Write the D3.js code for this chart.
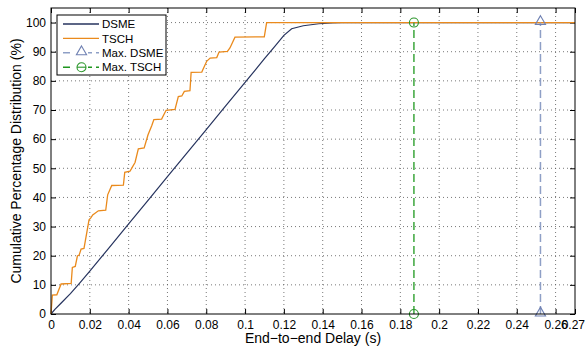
<!DOCTYPE html>
<html>
<head>
<meta charset="utf-8">
<script src="https://cdn.jsdelivr.net/npm/d3@7"></script>
<style>
  body { margin: 0; background: #fff; }
  svg text { font-family: "Liberation Sans", Arial, Helvetica, sans-serif; fill: #000; }
</style>
</head>
<body>
<div id="chart"></div>
<script>
// delay (s) and cumulative share (%)
const dsmeDelay = [0, 0.002, 0.005, 0.01, 0.015, 0.02, 0.03, 0.04, 0.05, 0.06, 0.07, 0.08, 0.09, 0.1, 0.105, 0.11, 0.115, 0.12, 0.124, 0.13, 0.138, 0.145, 0.15, 0.27];
const dsmePct   = [0, 1.6, 3.6, 7.0, 10.8, 14.7, 22.8, 30.9, 39.0, 47.1, 55.2, 63.3, 71.4, 79.5, 83.5, 87.6, 91.6, 95.6, 97.9, 98.9, 99.6, 99.9, 100, 100];

const tschDelay = [0, 0.0007, 0.003, 0.0052, 0.0104, 0.011, 0.0125, 0.0136, 0.0145, 0.0155, 0.017, 0.0196, 0.0205, 0.0215, 0.0244, 0.0282, 0.0292, 0.0313, 0.0373, 0.038, 0.0407, 0.042, 0.0433, 0.045, 0.048, 0.05, 0.0519, 0.053, 0.057, 0.0593, 0.0639, 0.0656, 0.0674, 0.0687, 0.0716, 0.0722, 0.0777, 0.0802, 0.082, 0.0854, 0.0866, 0.0909, 0.0922, 0.0948, 0.1099, 0.1111, 0.27];
const tschPct   = [0, 6.5, 6.6, 10.3, 10.5, 16.0, 16.3, 19.9, 20.2, 22.3, 22.5, 32.3, 33.0, 34.0, 35.4, 35.6, 40.9, 44.1, 44.2, 48.6, 49.0, 50.5, 52.0, 56.7, 57.0, 61.5, 64.6, 66.7, 66.9, 69.9, 70.2, 74.6, 74.8, 76.4, 76.6, 82.9, 83.0, 86.7, 87.8, 88.0, 89.9, 90.1, 91.3, 95.0, 95.1, 100, 100];

const maxDelay = { dsme: 0.2522, tsch: 0.187 };
const xTicks = [0, 0.02, 0.04, 0.06, 0.08, 0.1, 0.12, 0.14, 0.16, 0.18, 0.2, 0.22, 0.24, 0.26, 0.27];
const yTicks = [0, 10, 20, 30, 40, 50, 60, 70, 80, 90, 100];

const width = 585, height = 347;
const margin = { top: 8, right: 10, bottom: 33, left: 51 };
const w = width - margin.left - margin.right;
const h = height - margin.top - margin.bottom;

const colors = { dsme: '#26335e', tsch: '#ea8a1c', maxDsme: '#8e9fc6', maxTsch: '#3da63d' };

const svg = d3.select('#chart').append('svg')
  .attr('width', width)
  .attr('height', height);

const g = svg.append('g')
  .attr('transform', `translate(${margin.left},${margin.top})`);

const x = d3.scaleLinear().domain([0, 0.27]).range([0, w]);
const y = d3.scaleLinear().domain([0, 105]).range([h, 0]);

const fmt = d => String(+d.toFixed(2));

// grid
g.append('g')
  .attr('class', 'grid')
  .selectAll('line.gx')
  .data(xTicks.filter(d => d > 0 && d < 0.27))
  .enter().append('line')
  .attr('x1', d => x(d)).attr('x2', d => x(d))
  .attr('y1', 0).attr('y2', h);
g.append('g')
  .attr('class', 'grid')
  .selectAll('line.gy')
  .data(yTicks.filter(d => d > 0))
  .enter().append('line')
  .attr('x1', 0).attr('x2', w)
  .attr('y1', d => y(d)).attr('y2', d => y(d));
g.selectAll('.grid line')
  .attr('stroke', '#555')
  .attr('stroke-width', 0.8)
  .attr('stroke-dasharray', '1,3');

// axes, ticks pointing inward on all sides
const xAxis = g.append('g')
  .attr('transform', `translate(0,${h})`)
  .call(d3.axisBottom(x).tickValues(xTicks).tickFormat(fmt).tickSizeInner(-5).tickSizeOuter(0).tickPadding(6));
const xTop = g.append('g')
  .call(d3.axisTop(x).tickValues(xTicks).tickFormat('').tickSizeInner(-5).tickSizeOuter(0));
const yAxis = g.append('g')
  .call(d3.axisLeft(y).tickValues(yTicks).tickSizeInner(-5).tickSizeOuter(0).tickPadding(5));
const yRight = g.append('g')
  .attr('transform', `translate(${w},0)`)
  .call(d3.axisRight(y).tickValues(yTicks).tickFormat('').tickSizeInner(-5).tickSizeOuter(0));

[xAxis, xTop, yAxis, yRight].forEach(a => {
  a.select('.domain').remove();
  a.selectAll('line').attr('stroke', '#000');
  a.selectAll('text').style('font-size', '12px');
});

// last label sits at the right edge, keep it inside the page
xAxis.selectAll('.tick text')
  .filter(d => d === 0.27)
  .attr('text-anchor', 'end')
  .attr('dx', 9.5);

// lines
const line = d3.line().x(d => x(d[0])).y(d => y(d[1]));

g.append('path')
  .datum(dsmeDelay.map((d, i) => [d, dsmePct[i]]))
  .attr('d', line)
  .attr('fill', 'none')
  .attr('stroke', colors.dsme)
  .attr('stroke-width', 1.2);

g.append('path')
  .datum(tschDelay.map((d, i) => [d, tschPct[i]]))
  .attr('d', line)
  .attr('fill', 'none')
  .attr('stroke', colors.tsch)
  .attr('stroke-width', 1.3);

// max markers
const tri = d3.symbol().type(d3.symbolTriangle).size(45);

g.append('line')
  .attr('x1', x(maxDelay.tsch)).attr('x2', x(maxDelay.tsch))
  .attr('y1', y(0)).attr('y2', y(100))
  .attr('stroke', colors.maxTsch).attr('stroke-width', 1.5)
  .attr('stroke-dasharray', '8,4');
[0, 100].forEach(v => {
  g.append('circle')
    .attr('cx', x(maxDelay.tsch)).attr('cy', y(v)).attr('r', 4.5)
    .attr('fill', 'none').attr('stroke', '#2a962a').attr('stroke-width', 1.1);
});

g.append('line')
  .attr('x1', x(maxDelay.dsme)).attr('x2', x(maxDelay.dsme))
  .attr('y1', y(0)).attr('y2', y(100))
  .attr('stroke', colors.maxDsme).attr('stroke-width', 1.5)
  .attr('stroke-dasharray', '8,4');
[0, 100].forEach(v => {
  g.append('path')
    .attr('d', tri)
    .attr('transform', `translate(${x(maxDelay.dsme)},${y(v) - 1})`)
    .attr('fill', 'none').attr('stroke', '#6f80b2').attr('stroke-width', 1.1);
});

// frame
g.append('rect')
  .attr('width', w).attr('height', h)
  .attr('fill', 'none').attr('stroke', '#000').attr('stroke-width', 1);

// axis labels
svg.append('text')
  .attr('x', margin.left + w / 2)
  .attr('y', 343)
  .attr('text-anchor', 'middle')
  .style('font-size', '14px')
  .text('End\u2212to\u2212end Delay (s)');

svg.append('text')
  .attr('transform', `translate(21,${margin.top + h / 2}) rotate(-90)`)
  .attr('text-anchor', 'middle')
  .style('font-size', '14px')
  .text('Cumulative Percentage Distribution (%)');

// legend
const legend = svg.append('g').attr('transform', 'translate(57,15)');
legend.append('rect')
  .attr('width', 109).attr('height', 60)
  .attr('fill', '#fff').attr('stroke', '#000').attr('stroke-width', 1);

const items = [
  { label: 'DSME', color: colors.dsme, dash: null, marker: null },
  { label: 'TSCH', color: colors.tsch, dash: null, marker: null },
  { label: 'Max. DSME', color: colors.maxDsme, dash: '7,4', marker: 'tri' },
  { label: 'Max. TSCH', color: '#1f961f', dash: '7,4', marker: 'circle' }
];

items.forEach((it, i) => {
  const row = legend.append('g').attr('transform', `translate(0,${9 + i * 14.4})`);
  row.append('line')
    .attr('x1', 6).attr('x2', 42)
    .attr('stroke', it.color).attr('stroke-width', it.dash ? 1.5 : 1.4)
    .attr('stroke-dasharray', it.dash);
  if (it.marker === 'tri') {
    row.append('rect').attr('x', 17).attr('y', -6).attr('width', 14).attr('height', 12).attr('fill', '#fff');
    row.append('path').attr('d', tri).attr('transform', 'translate(24.5,-1)')
      .attr('fill', 'none').attr('stroke', '#6f80b2').attr('stroke-width', 1.1);
  }
  if (it.marker === 'circle') {
    row.append('rect').attr('x', 17).attr('y', -6).attr('width', 14).attr('height', 12).attr('fill', '#fff');
    row.append('circle').attr('cx', 24.5).attr('cy', 0).attr('r', 4.5)
      .attr('fill', 'none').attr('stroke', '#2a962a').attr('stroke-width', 1.1);
    row.append('line').attr('x1', 20).attr('x2', 29).attr('stroke', '#2a962a').attr('stroke-width', 1.1);
  }
  row.append('text')
    .attr('x', 45).attr('y', 4.2)
    .style('font-size', '11.5px')
    .text(it.label);
});
</script>
</body>
</html>
